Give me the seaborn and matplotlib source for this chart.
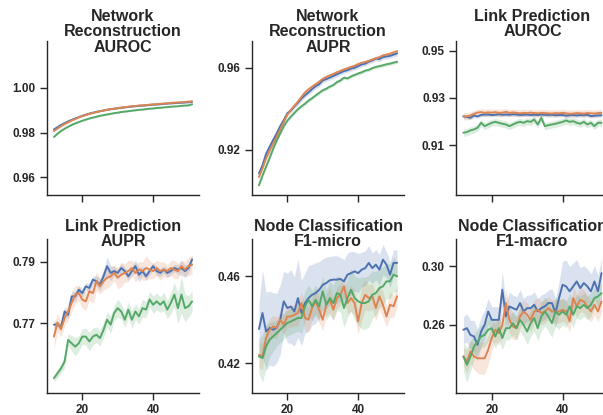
import numpy as np
import pandas as pd
import matplotlib
matplotlib.use("Agg")
import matplotlib.pyplot as plt
import seaborn as sns

# embedding dimension on the x axis
dims = list(range(12, 52))
methods = ["method 1", "method 2", "method 3"]

# Network Reconstruction AUROC
nr_auroc_1 = [0.9814, 0.9824, 0.9834, 0.9842, 0.9850, 0.9857, 0.9863, 0.9869, 0.9875, 0.9880,
              0.9885, 0.9889, 0.9893, 0.9896, 0.9899, 0.9902, 0.9905, 0.9907, 0.9909, 0.9911,
              0.9913, 0.9915, 0.9917, 0.9918, 0.9920, 0.9921, 0.9922, 0.9924, 0.9925, 0.9926,
              0.9927, 0.9929, 0.9930, 0.9931, 0.9932, 0.9933, 0.9934, 0.9935, 0.9936, 0.9938]
nr_auroc_2 = [0.9807, 0.9818, 0.9829, 0.9838, 0.9846, 0.9854, 0.9861, 0.9868, 0.9874, 0.9879,
              0.9884, 0.9888, 0.9892, 0.9896, 0.9899, 0.9902, 0.9905, 0.9907, 0.9910, 0.9912,
              0.9914, 0.9916, 0.9918, 0.9919, 0.9921, 0.9922, 0.9923, 0.9925, 0.9926, 0.9927,
              0.9929, 0.9930, 0.9931, 0.9933, 0.9934, 0.9935, 0.9936, 0.9937, 0.9939, 0.9940]
nr_auroc_3 = [0.9780, 0.9795, 0.9807, 0.9817, 0.9826, 0.9834, 0.9841, 0.9847, 0.9853, 0.9858,
              0.9863, 0.9867, 0.9871, 0.9875, 0.9878, 0.9881, 0.9884, 0.9887, 0.9889, 0.9892,
              0.9894, 0.9896, 0.9898, 0.9900, 0.9902, 0.9903, 0.9905, 0.9907, 0.9908, 0.9910,
              0.9911, 0.9913, 0.9914, 0.9916, 0.9917, 0.9918, 0.9920, 0.9921, 0.9922, 0.9927]
nr_auroc_band = [0.0003, 0.0003, 0.0003]

# Network Reconstruction AUPR
nr_aupr_1 = [0.9085, 0.9125, 0.9180, 0.9215, 0.9248, 0.9280, 0.9315, 0.9345, 0.9378, 0.9392,
             0.9412, 0.9430, 0.9450, 0.9466, 0.9480, 0.9496, 0.9510, 0.9520, 0.9538, 0.9545,
             0.9552, 0.9560, 0.9568, 0.9576, 0.9584, 0.9588, 0.9596, 0.9600, 0.9608, 0.9616,
             0.9620, 0.9630, 0.9636, 0.9645, 0.9642, 0.9652, 0.9655, 0.9658, 0.9664, 0.9670]
nr_aupr_2 = [0.9068, 0.9110, 0.9158, 0.9195, 0.9230, 0.9263, 0.9300, 0.9335, 0.9372, 0.9395,
             0.9415, 0.9435, 0.9458, 0.9480, 0.9495, 0.9508, 0.9520, 0.9532, 0.9546, 0.9555,
             0.9563, 0.9570, 0.9578, 0.9585, 0.9592, 0.9598, 0.9604, 0.9610, 0.9618, 0.9624,
             0.9628, 0.9634, 0.9640, 0.9646, 0.9652, 0.9660, 0.9664, 0.9668, 0.9675, 0.9681]
nr_aupr_3 = [0.9028, 0.9075, 0.9117, 0.9160, 0.9205, 0.9245, 0.9280, 0.9315, 0.9342, 0.9362,
             0.9380, 0.9398, 0.9412, 0.9425, 0.9440, 0.9452, 0.9465, 0.9478, 0.9490, 0.9498,
             0.9508, 0.9516, 0.9530, 0.9538, 0.9552, 0.9548, 0.9558, 0.9565, 0.9572, 0.9578,
             0.9586, 0.9590, 0.9598, 0.9604, 0.9608, 0.9612, 0.9617, 0.9620, 0.9625, 0.9629]
nr_aupr_band = [0.0012, 0.0008, 0.0008]

# Link Prediction AUROC
lp_auroc_1 = [0.9222, 0.9220, 0.9216, 0.9226, 0.9222, 0.9228, 0.9230, 0.9230, 0.9228, 0.9229,
              0.9231, 0.9229, 0.9230, 0.9229, 0.9231, 0.9230, 0.9228, 0.9229, 0.9230, 0.9228,
              0.9229, 0.9228, 0.9230, 0.9229, 0.9228, 0.9229, 0.9227, 0.9228, 0.9228, 0.9225,
              0.9227, 0.9228, 0.9226, 0.9228, 0.9227, 0.9229, 0.9223, 0.9225, 0.9226, 0.9227]
lp_auroc_2 = [0.9223, 0.9222, 0.9226, 0.9233, 0.9238, 0.9240, 0.9237, 0.9239, 0.9238, 0.9240,
              0.9237, 0.9238, 0.9241, 0.9237, 0.9239, 0.9237, 0.9235, 0.9237, 0.9236, 0.9238,
              0.9236, 0.9235, 0.9237, 0.9236, 0.9235, 0.9234, 0.9236, 0.9235, 0.9237, 0.9235,
              0.9233, 0.9234, 0.9236, 0.9235, 0.9234, 0.9236, 0.9235, 0.9234, 0.9236, 0.9237]
lp_auroc_3 = [0.9153, 0.9156, 0.9163, 0.9167, 0.9174, 0.9195, 0.9181, 0.9188, 0.9195, 0.9199,
              0.9195, 0.9191, 0.9188, 0.9181, 0.9188, 0.9195, 0.9199, 0.9195, 0.9202, 0.9199,
              0.9209, 0.9188, 0.9216, 0.9181, 0.9185, 0.9188, 0.9191, 0.9195, 0.9199, 0.9205,
              0.9199, 0.9202, 0.9195, 0.9191, 0.9199, 0.9188, 0.9195, 0.9181, 0.9195, 0.9195]
lp_auroc_band = [0.0008, 0.0015, 0.0015]

# Link Prediction AUPR
lp_aupr_1 = [0.7695, 0.7695, 0.7687, 0.7738, 0.7727, 0.7787, 0.7787, 0.7809, 0.7798, 0.7820,
             0.7815, 0.7842, 0.7837, 0.7826, 0.7853, 0.7886, 0.7864, 0.7870, 0.7864, 0.7880,
             0.7870, 0.7853, 0.7870, 0.7886, 0.7858, 0.7870, 0.7853, 0.7870, 0.7886, 0.7870,
             0.7864, 0.7875, 0.7864, 0.7870, 0.7880, 0.7875, 0.7880, 0.7870, 0.7880, 0.7908]
lp_aupr_2 = [0.7656, 0.7702, 0.7680, 0.7716, 0.7738, 0.7766, 0.7793, 0.7798, 0.7777, 0.7771,
             0.7804, 0.7798, 0.7837, 0.7820, 0.7837, 0.7848, 0.7853, 0.7864, 0.7848, 0.7858,
             0.7864, 0.7870, 0.7880, 0.7864, 0.7875, 0.7870, 0.7880, 0.7875, 0.7870, 0.7880,
             0.7870, 0.7875, 0.7870, 0.7880, 0.7875, 0.7870, 0.7886, 0.7875, 0.7886, 0.7891]
lp_aupr_3 = [0.7520, 0.7536, 0.7552, 0.7574, 0.7645, 0.7634, 0.7623, 0.7634, 0.7656, 0.7656,
             0.7640, 0.7656, 0.7662, 0.7651, 0.7678, 0.7711, 0.7695, 0.7733, 0.7749, 0.7738,
             0.7711, 0.7744, 0.7711, 0.7738, 0.7722, 0.7749, 0.7744, 0.7777, 0.7760, 0.7771,
             0.7760, 0.7771, 0.7744, 0.7766, 0.7793, 0.7749, 0.7793, 0.7749, 0.7755, 0.7771]
lp_aupr_band_1 = [0.0012, 0.0010, 0.0012, 0.0015, 0.0012, 0.0018, 0.0015, 0.0012, 0.0015, 0.0012,
                  0.0015, 0.0012, 0.0018, 0.0020, 0.0022, 0.0030, 0.0025, 0.0015, 0.0012, 0.0015,
                  0.0012, 0.0012, 0.0015, 0.0020, 0.0025, 0.0015, 0.0012, 0.0012, 0.0012, 0.0015,
                  0.0012, 0.0012, 0.0015, 0.0012, 0.0012, 0.0015, 0.0025, 0.0020, 0.0015, 0.0015]
lp_aupr_band_2 = [0.0040, 0.0030, 0.0025, 0.0025, 0.0028, 0.0030, 0.0030, 0.0025, 0.0028, 0.0030,
                  0.0028, 0.0035, 0.0030, 0.0025, 0.0030, 0.0035, 0.0030, 0.0025, 0.0035, 0.0040,
                  0.0030, 0.0035, 0.0025, 0.0030, 0.0025, 0.0030, 0.0040, 0.0030, 0.0025, 0.0025,
                  0.0030, 0.0025, 0.0020, 0.0025, 0.0030, 0.0025, 0.0020, 0.0025, 0.0030, 0.0030]
lp_aupr_band_3 = [0.0012, 0.0015, 0.0015, 0.0020, 0.0020, 0.0025, 0.0030, 0.0025, 0.0025, 0.0028,
                  0.0030, 0.0028, 0.0025, 0.0025, 0.0025, 0.0025, 0.0028, 0.0025, 0.0030, 0.0025,
                  0.0025, 0.0025, 0.0030, 0.0025, 0.0025, 0.0030, 0.0025, 0.0025, 0.0028, 0.0028,
                  0.0025, 0.0030, 0.0030, 0.0035, 0.0040, 0.0050, 0.0060, 0.0045, 0.0035, 0.0035]

# Node Classification F1-micro
nc_micro_1 = [0.4357, 0.4431, 0.4346, 0.4362, 0.4354, 0.4362, 0.4400, 0.4485, 0.4454, 0.4461,
              0.4438, 0.4500, 0.4431, 0.4477, 0.4500, 0.4515, 0.4523, 0.4538, 0.4561, 0.4569,
              0.4582, 0.4585, 0.4585, 0.4588, 0.4577, 0.4608, 0.4615, 0.4623, 0.4615, 0.4631,
              0.4638, 0.4662, 0.4638, 0.4654, 0.4631, 0.4677, 0.4654, 0.4608, 0.4662, 0.4662]
nc_micro_2 = [0.4238, 0.4231, 0.4315, 0.4354, 0.4369, 0.4362, 0.4400, 0.4377, 0.4415, 0.4415,
              0.4423, 0.4431, 0.4477, 0.4408, 0.4400, 0.4454, 0.4485, 0.4446, 0.4400, 0.4469,
              0.4492, 0.4446, 0.4500, 0.4515, 0.4554, 0.4477, 0.4500, 0.4477, 0.4392, 0.4477,
              0.4515, 0.4500, 0.4508, 0.4454, 0.4508, 0.4469, 0.4415, 0.4469, 0.4462, 0.4508]
nc_micro_3 = [0.4231, 0.4223, 0.4277, 0.4308, 0.4323, 0.4338, 0.4354, 0.4369, 0.4385, 0.4392,
              0.4400, 0.4408, 0.4408, 0.4462, 0.4492, 0.4462, 0.4492, 0.4462, 0.4531, 0.4469,
              0.4500, 0.4477, 0.4523, 0.4515, 0.4454, 0.4500, 0.4538, 0.4500, 0.4485, 0.4477,
              0.4477, 0.4485, 0.4515, 0.4523, 0.4546, 0.4554, 0.4577, 0.4577, 0.4608, 0.4600]
nc_micro_band_1 = [0.012, 0.020, 0.018, 0.017, 0.017, 0.016, 0.016, 0.014, 0.016, 0.017,
                   0.016, 0.018, 0.015, 0.014, 0.015, 0.014, 0.014, 0.013, 0.012, 0.012,
                   0.011, 0.011, 0.011, 0.010, 0.010, 0.010, 0.010, 0.009, 0.009, 0.008,
                   0.008, 0.008, 0.007, 0.007, 0.007, 0.007, 0.006, 0.006, 0.006, 0.006]
nc_micro_band_2 = [0.006, 0.006, 0.005, 0.005, 0.005, 0.005, 0.004, 0.005, 0.005, 0.005,
                   0.005, 0.006, 0.005, 0.006, 0.006, 0.005, 0.006, 0.006, 0.005, 0.005,
                   0.006, 0.005, 0.005, 0.005, 0.005, 0.005, 0.006, 0.006, 0.006, 0.008,
                   0.007, 0.006, 0.006, 0.006, 0.006, 0.006, 0.005, 0.006, 0.005, 0.005]
nc_micro_band_3 = [0.008, 0.011, 0.010, 0.008, 0.007, 0.006, 0.006, 0.006, 0.006, 0.006,
                   0.006, 0.006, 0.007, 0.007, 0.007, 0.007, 0.007, 0.007, 0.007, 0.007,
                   0.008, 0.008, 0.008, 0.008, 0.009, 0.009, 0.010, 0.010, 0.011, 0.012,
                   0.012, 0.012, 0.011, 0.010, 0.009, 0.009, 0.008, 0.008, 0.008, 0.007]

# Node Classification F1-macro
nc_macro_1 = [0.2566, 0.2577, 0.2531, 0.2520, 0.2463, 0.2554, 0.2600, 0.2691, 0.2634, 0.2634,
              0.2634, 0.2840, 0.2657, 0.2726, 0.2714, 0.2703, 0.2749, 0.2691, 0.2714, 0.2714,
              0.2737, 0.2691, 0.2714, 0.2726, 0.2749, 0.2749, 0.2680, 0.2783, 0.2874, 0.2863,
              0.2829, 0.2863, 0.2897, 0.2851, 0.2886, 0.2863, 0.2829, 0.2897, 0.2829, 0.2954]
nc_macro_2 = [0.2383, 0.2349, 0.2417, 0.2383, 0.2371, 0.2371, 0.2371, 0.2429, 0.2509, 0.2566,
              0.2543, 0.2600, 0.2749, 0.2634, 0.2589, 0.2577, 0.2657, 0.2691, 0.2669, 0.2634,
              0.2691, 0.2703, 0.2680, 0.2691, 0.2714, 0.2691, 0.2691, 0.2691, 0.2703, 0.2691,
              0.2623, 0.2783, 0.2726, 0.2771, 0.2760, 0.2726, 0.2691, 0.2737, 0.2691, 0.2760]
nc_macro_3 = [0.2383, 0.2326, 0.2383, 0.2451, 0.2486, 0.2520, 0.2531, 0.2566, 0.2577, 0.2520,
              0.2577, 0.2509, 0.2577, 0.2577, 0.2611, 0.2577, 0.2634, 0.2600, 0.2554, 0.2611,
              0.2646, 0.2577, 0.2657, 0.2691, 0.2657, 0.2611, 0.2691, 0.2669, 0.2691, 0.2669,
              0.2726, 0.2669, 0.2726, 0.2714, 0.2737, 0.2714, 0.2737, 0.2783, 0.2794, 0.2817]
nc_macro_band_1 = [0.009, 0.010, 0.010, 0.011, 0.011, 0.010, 0.010, 0.009, 0.009, 0.009,
                   0.009, 0.012, 0.010, 0.010, 0.009, 0.009, 0.009, 0.009, 0.009, 0.009,
                   0.009, 0.009, 0.009, 0.009, 0.009, 0.010, 0.010, 0.011, 0.016, 0.018,
                   0.017, 0.016, 0.015, 0.014, 0.012, 0.012, 0.012, 0.011, 0.011, 0.010]
nc_macro_band_2 = [0.006, 0.008, 0.008, 0.009, 0.010, 0.011, 0.011, 0.010, 0.009, 0.008,
                   0.008, 0.008, 0.010, 0.009, 0.009, 0.008, 0.008, 0.008, 0.008, 0.008,
                   0.008, 0.008, 0.008, 0.008, 0.008, 0.008, 0.008, 0.008, 0.008, 0.008,
                   0.008, 0.008, 0.008, 0.008, 0.008, 0.008, 0.007, 0.007, 0.007, 0.007]
nc_macro_band_3 = [0.010, 0.012, 0.010, 0.009, 0.008, 0.008, 0.008, 0.008, 0.008, 0.008,
                   0.008, 0.008, 0.008, 0.008, 0.008, 0.008, 0.008, 0.008, 0.009, 0.009,
                   0.009, 0.009, 0.010, 0.010, 0.010, 0.010, 0.010, 0.010, 0.009, 0.009,
                   0.009, 0.009, 0.008, 0.008, 0.008, 0.008, 0.008, 0.007, 0.007, 0.007]

panels = [
    ("Network\nReconstruction\nAUROC", [nr_auroc_1, nr_auroc_2, nr_auroc_3], nr_auroc_band,
     [0.96, 0.98, 1.00], (0.952, 1.021)),
    ("Network\nReconstruction\nAUPR", [nr_aupr_1, nr_aupr_2, nr_aupr_3], nr_aupr_band,
     [0.92, 0.96], (0.898, 0.973)),
    ("Link Prediction\nAUROC", [lp_auroc_1, lp_auroc_2, lp_auroc_3], lp_auroc_band,
     [0.91, 0.93, 0.95], (0.889, 0.954)),
    ("Link Prediction\nAUPR", [lp_aupr_1, lp_aupr_2, lp_aupr_3],
     [lp_aupr_band_1, lp_aupr_band_2, lp_aupr_band_3], [0.77, 0.79], (0.7473, 0.7976)),
    ("Node Classification\nF1-micro", [nc_micro_1, nc_micro_2, nc_micro_3],
     [nc_micro_band_1, nc_micro_band_2, nc_micro_band_3], [0.42, 0.46], (0.4064, 0.4774)),
    ("Node Classification\nF1-macro", [nc_macro_1, nc_macro_2, nc_macro_3],
     [nc_macro_band_1, nc_macro_band_2, nc_macro_band_3], [0.26, 0.30], (0.2136, 0.319)),
]

sns.set_theme(context="paper", style="ticks")
plt.rcParams["font.family"] = ["Liberation Sans", "DejaVu Sans"]
colors = sns.color_palette("deep", 3)

fig = plt.figure(figsize=(6.03, 4.15), dpi=100)
lefts = [0.078, 0.418, 0.757]
bottoms = [0.530, 0.054]
title_y = [1.21, 1.13]

for i, (title, means, bands, yticks, ylim) in enumerate(panels):
    r, c = divmod(i, 3)
    ax = fig.add_axes([lefts[c], bottoms[r], 0.252, 0.371])
    df = pd.DataFrame({
        "dim": dims * 3,
        "score": np.concatenate(means),
        "method": np.repeat(methods, len(dims)),
    })
    sns.lineplot(data=df, x="dim", y="score", hue="method", palette=colors,
                 legend=False, ax=ax, linewidth=1.4)
    for m, b, col in zip(means, bands, colors):
        m = np.asarray(m)
        b = np.asarray(b)
        ax.fill_between(dims, m - b, m + b, color=col, alpha=0.2, linewidth=0)

    ax.set_ylim(*ylim)
    ax.set_yticks(yticks)
    ax.set_yticklabels([f"{t:.2f}" for t in yticks])
    ax.set_xticks([20, 40])
    if r == 0:
        ax.set_xticklabels([])
    ax.set_xlabel("")
    ax.set_ylabel("")
    ax.tick_params(labelsize=8.5)
    for lab in ax.get_xticklabels() + ax.get_yticklabels():
        lab.set_fontweight("bold")
    ax.set_title(title, fontsize=11.5, fontweight="bold", y=title_y[r], va="top",
                 pad=0, linespacing=1.05)
    sns.despine(ax=ax)

fig.savefig("out.png", dpi=100)
